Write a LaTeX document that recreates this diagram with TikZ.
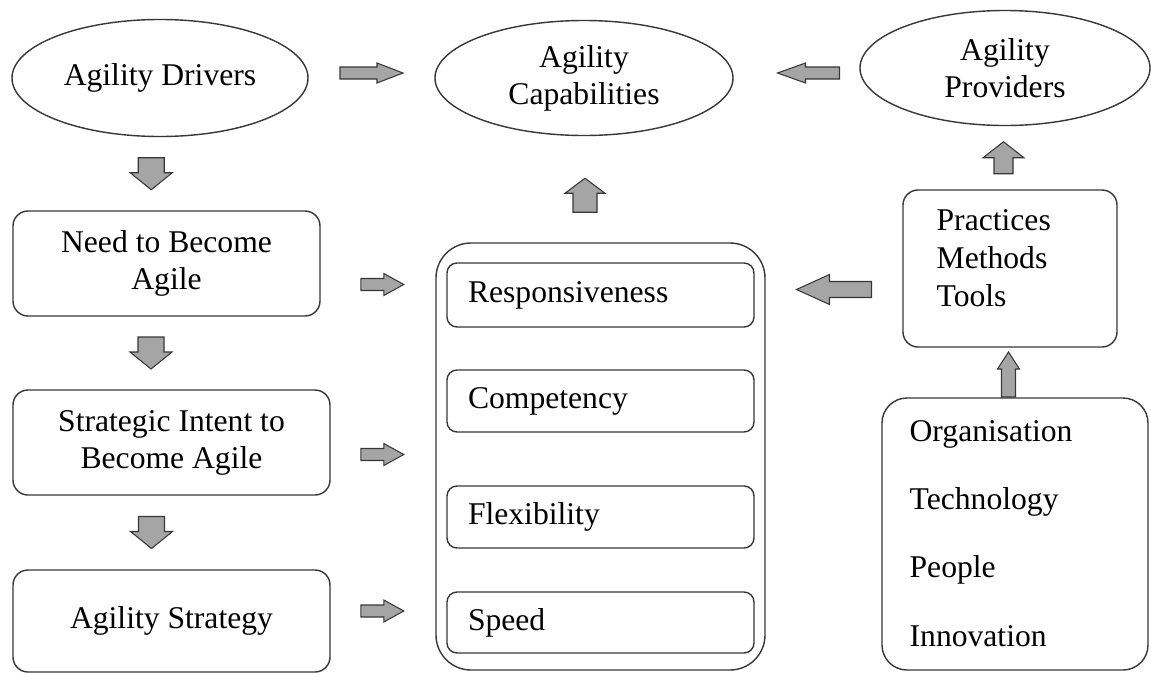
\documentclass[tikz,border=0pt]{standalone}
\usepackage{fontspec}
\setmainfont{Liberation Serif}
\usetikzlibrary{shapes.geometric,calc,positioning}

\definecolor{arrowgray}{RGB}{165,165,165}
\definecolor{linegray}{RGB}{55,55,55}

% one pixel of the reference
\newcommand{\pxu}{0.2mm}
% block arrow: position, angle, length, shaft, head width, head length
\newcommand{\blkarrow}[6]{%
  \draw[blkfill,shift={(#1)},rotate=#2]
    (-#3/2,-#4/2) -- ({#3/2-#6},-#4/2) -- ({#3/2-#6},-#5/2) -- (#3/2,0)
    -- ({#3/2-#6},#5/2) -- ({#3/2-#6},#4/2) -- (-#3/2,#4/2) -- cycle;}

\tikzset{
  every node/.style={font=\fontsize{18}{21}\selectfont},
  oval/.style={ellipse,draw=linegray,line width=0.8pt,inner sep=0pt,align=center},
  lbox/.style={draw=linegray,line width=0.8pt,rounded corners=3mm,align=center,
    minimum height=105*\pxu},
  bigbox/.style={draw=linegray,line width=0.8pt,rounded corners=7mm},
  inbox/.style={draw=linegray,line width=0.8pt,rounded corners=2mm,inner sep=0pt,
    minimum width=307*\pxu,minimum height=62*\pxu,text width=265*\pxu,align=left,
    text height=13pt,text depth=4pt},
  rbox/.style={draw=linegray,line width=0.8pt,rounded corners=#1},
  listtext/.style={anchor=north west,inner sep=0pt,align=left},
  blkfill/.style={fill=arrowgray,draw=linegray,line width=0.6pt,line join=miter}
}

\begin{document}
\begin{tikzpicture}[x=0.2mm,y=-0.2mm]
\useasboundingbox (0,0) rectangle (1151,673);

% top row
\node[oval,minimum width=296*\pxu,minimum height=117*\pxu] (drv) at (160,78) {Agility Drivers};
\node[oval,minimum width=298*\pxu,minimum height=115*\pxu] (cap) at (584,78) {Agility\\Capabilities};
\node[oval,minimum width=290*\pxu,minimum height=115*\pxu] (prov) at (1005,68) {Agility\\Providers};

% left column
\node[lbox,minimum width=307*\pxu] (need) at (166.5,263.5) {Need to Become\\Agile};
\node[lbox,minimum width=317*\pxu] (intent) at (171.5,442.5) {Strategic Intent to\\Become Agile};
\node[lbox,minimum width=317*\pxu,minimum height=102*\pxu] (strat) at (171.5,621) {Agility Strategy};

% capabilities
\node[bigbox,minimum width=329*\pxu,minimum height=427*\pxu] (big) at (600.5,456.5) {};
\node[inbox,minimum height=64*\pxu] (resp) at (600.5,295) {Responsiveness};
\node[inbox] (comp) at (600.5,401) {Competency};
\node[inbox] (flex) at (600.5,517) {Flexibility};
\node[inbox,minimum height=61*\pxu] (speed) at (600.5,622.5) {Speed};

% providers
\node[rbox=3mm,minimum width=214*\pxu,minimum height=157*\pxu] (prac) at (1010,268.5) {};
\node[listtext,font=\fontsize{18}{21.5}\selectfont] (practxt) at ([shift={(34,20)}]prac.north west)
  {Practices\\Methods\\Tools};
\node[rbox=5mm,minimum width=266*\pxu,minimum height=272*\pxu] (org) at (1015,534) {};
\node[listtext,font=\fontsize{18}{38.8}\selectfont] (orgtxt) at ([shift={(28,23)}]org.north west)
  {Organisation\\Technology\\People\\Innovation};

% block arrows
\coordinate (a1) at ($(drv.east)!0.5!(cap.west)+(0,-5)$);
\coordinate (a2) at ($(cap.east)!0.5!(prov.west)+(12,0)$);
\coordinate (a3) at ($(drv.south)!0.5!(need.north)+(-12,0)$);
\coordinate (a4) at ($(need.south)!0.5!(intent.north)+(-18,0)$);
\coordinate (a5) at ($(intent.south)!0.5!(strat.north)+(-20,0)$);
\coordinate (a6) at ($(big.west |- need.east)+(-53,21)$);
\coordinate (a7) at ($(big.west |- intent.east)+(-53,12)$);
\coordinate (a8) at ($(big.west |- strat.east)+(-53,-10)$);
\coordinate (a9) at ($(cap.south)!0.5!(big.north -| cap.south)+(1,6)$);
\coordinate (a10) at ($(big.east |- prac.west)!0.5!(prac.west)+(0,21)$);
\coordinate (a11) at ($(prov.south)!0.5!(prac.north)+(-4,0)$);
\coordinate (a12) at ($(prac.south)!0.5!(org.north)+(-4,2)$);

\blkarrow{a1}{0}{63}{12}{20}{26}
\blkarrow{a2}{180}{62}{12}{20}{28}
\blkarrow{a3}{-90}{32}{26}{42}{17}
\blkarrow{a4}{-90}{32}{26}{42}{17}
\blkarrow{a5}{-90}{32}{26}{42}{17}
\blkarrow{a6}{0}{43}{12}{22}{20}
\blkarrow{a7}{0}{43}{12}{22}{20}
\blkarrow{a8}{0}{43}{12}{22}{20}
\blkarrow{a9}{90}{34}{24}{40}{15}
\blkarrow{a10}{180}{75}{16}{30}{33}
\blkarrow{a11}{90}{32}{19}{41}{16}
\blkarrow{a12}{90}{45}{14}{22}{17}
\end{tikzpicture}
\end{document}
